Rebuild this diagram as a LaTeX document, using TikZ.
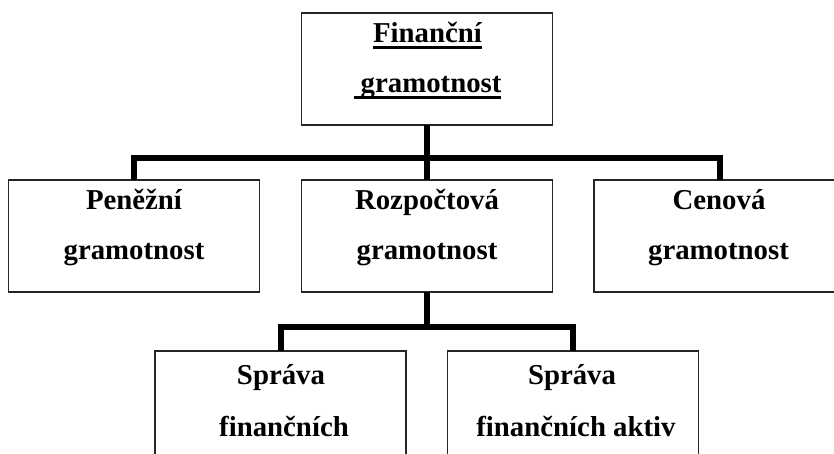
\documentclass[tikz,border=0pt]{standalone}
\usepackage{fontspec}
\setmainfont{Liberation Serif}
\newsavebox\ulsave
\newcommand\myul[1]{\sbox\ulsave{#1}\rlap{\rule[-7pt]{\wd\ulsave}{3pt}}\usebox\ulsave}
\begin{document}
\begin{tikzpicture}[x=1pt,y=-1pt,
  box/.style={draw=black!85, line width=1.3pt, minimum width=251pt, minimum height=112pt, inner sep=0pt, outer sep=0pt},
  conn/.style={line width=6pt, line join=miter},
  lbl/.style={anchor=base, inner sep=0pt, outer sep=0pt, font=\fontsize{28.8}{34}\selectfont\bfseries}]
\clip (0,0) rectangle (834,453);
\fill[white] (0,0) rectangle (834,453);
% boxes
\node[box] (top) at (427,69) {};
\node[box] (pen) at (134,236) {};
\node[box] (roz) at (427,236) {};
\node[box] (cen) at (719.5,236) {};
\node[box] (sprA) at (280.5,407) {};
\node[box] (sprB) at (573,407) {};
% labels
\node[lbl] (topA) at (427.5,42) {\myul{Finanční}};
\node[lbl] (topB) at (427.5,92) {\myul{\ gramotnost}};
\node[lbl] (penA) at (134,209) {Peněžní};
\node[lbl] (penB) at (134,259) {gramotnost};
\node[lbl] (rozA) at (427,209) {Rozpočtová};
\node[lbl] (rozB) at (427,259) {gramotnost};
\node[lbl] (cenA) at (719,209) {Cenová};
\node[lbl] (cenB) at (718.5,259) {gramotnost};
\node[lbl] (sprAa) at (281,384) {Správa};
\node[lbl] (sprAb) at (284,436) {finančních};
\node[lbl] (sprBa) at (572,384) {Správa};
\node[lbl] (sprBb) at (576,436) {finančních aktiv};
% connectors
\coordinate (j1) at (427,157.5);
\coordinate (j2) at (427,327);
\draw[conn] (top.south) -- (roz.north);
\draw[conn] (pen.north) |- (j1) -| (cen.north);
\draw[conn] (roz.south) -- (j2);
\draw[conn] (sprA.north) |- (j2) -| (sprB.north);
\end{tikzpicture}
\end{document}
